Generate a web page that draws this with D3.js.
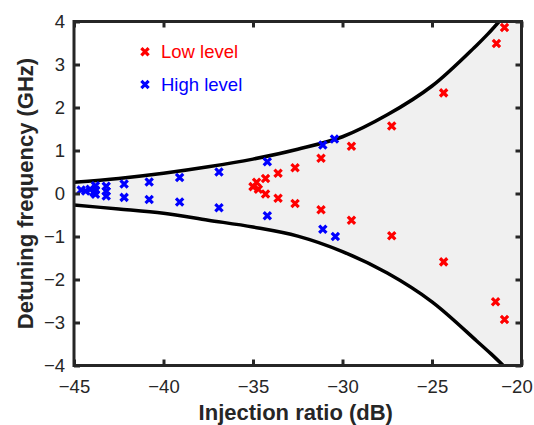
<!DOCTYPE html>
<html>
<head>
<meta charset="utf-8">
<script src="https://cdn.jsdelivr.net/npm/d3@7"></script>
<style>
  body { margin: 0; background: #fff; }
  svg { display: block; font-family: "Liberation Sans", Arial, sans-serif; }
</style>
</head>
<body>
<svg id="chart" width="534" height="425"></svg>
<script>
// locking boundaries
const upperX = [-45, -42.5, -40, -37.5, -35, -32.5, -30, -27.5, -25, -22.5, -21.9, -21.25];
const upperY = [0.26, 0.35, 0.47, 0.62, 0.80, 1.03, 1.32, 1.83, 2.50, 3.45, 3.70, 4.0];
const lowerX = [-45, -42.5, -40, -37.5, -35, -32.5, -30, -27.5, -25, -22.5, -21.7, -20.9];
const lowerY = [-0.27, -0.36, -0.46, -0.62, -0.78, -0.99, -1.35, -1.85, -2.52, -3.43, -3.73, -4.05];

// measured points
const lowX = [-35.0, -34.8, -34.7, -34.3, -34.3, -33.6, -33.6, -32.65, -32.65, -31.2, -31.2,
              -29.5, -29.5, -27.25, -27.25, -24.35, -24.35, -21.4, -21.45, -20.95, -20.95];
const lowY = [0.16, 0.26, 0.10, 0.35, -0.01, 0.47, -0.11, 0.60, -0.23, 0.82, -0.38,
              1.10, -0.62, 1.57, -0.98, 2.34, -1.59, 3.49, -2.52, 3.86, -2.93];
const highX = [-44.6, -44.35, -44.1, -43.9, -43.8, -43.8, -43.8, -43.2, -43.2, -43.2, -42.2, -42.2,
               -40.8, -40.8, -39.1, -39.1, -36.9, -36.9, -34.2, -34.2, -31.1, -30.45, -31.1, -30.4];
const highY = [0.08, 0.06, 0.10, 0.03, 0.18, 0.08, -0.02, 0.17, 0.05, -0.06, 0.22, -0.09,
               0.27, -0.14, 0.37, -0.20, 0.50, -0.33, 0.74, -0.52, 1.13, 1.27, -0.83, -1.00];

const xTicks = [-45, -40, -35, -30, -25, -20];
const yTicks = [-4, -3, -2, -1, 0, 1, 2, 3, 4];
const seriesNames = ["Low level", "High level"];
const seriesColors = ["#ff0000", "#0000ff"];

const svg = d3.select("#chart");
const pLeft = 74, pRight = 521.5, pTop = 21.5, pBottom = 365.5;
const axisColor = "#262626";

const x = d3.scaleLinear().domain([-45, -20]).range([pLeft, pRight]);
const y = d3.scaleLinear().domain([-4, 4]).range([pBottom, pTop]);

svg.append("clipPath").attr("id", "plotclip")
  .append("rect")
  .attr("x", pLeft).attr("y", pTop)
  .attr("width", pRight - pLeft).attr("height", pBottom - pTop);

const upper = upperX.map((d, i) => [d, upperY[i]]);
const lower = lowerX.map((d, i) => [d, lowerY[i]]);

const line = d3.line()
  .x(d => x(d[0]))
  .y(d => y(d[1]))
  .curve(d3.curveCatmullRom);

const plot = svg.append("g").attr("clip-path", "url(#plotclip)");

// shaded locking region: upper curve, the right edge, back along the lower curve
const fillPath = line(upper) +
  "L" + x(-20) + "," + y(4) +
  "L" + x(-20) + "," + y(-4) +
  "L" + line(lower.slice().reverse()).slice(1) + "Z";

plot.append("path")
  .attr("d", fillPath)
  .attr("fill", "#f0f0f0");

[upper, lower].forEach(c => {
  plot.append("path")
    .attr("d", line(c))
    .attr("fill", "none")
    .attr("stroke", "#000")
    .attr("stroke-width", 3.5);
});

const marker = d3.symbol(d3.symbolX, 36);

function drawPoints(xs, ys, color) {
  plot.selectAll(null)
    .data(xs.map((d, i) => [d, ys[i]]))
    .join("path")
    .attr("d", marker)
    .attr("transform", d => "translate(" + x(d[0]) + "," + y(d[1]) + ")")
    .attr("fill", "none")
    .attr("stroke", color)
    .attr("stroke-width", 3.2);
}

drawPoints(highX, highY, seriesColors[1]);
drawPoints(lowX, lowY, seriesColors[0]);

// axes, ticks pointing inward
const fmt = d3.format("");
const xAxis = svg.append("g")
  .attr("transform", "translate(0," + pBottom + ")")
  .call(d3.axisBottom(x).tickValues(xTicks).tickFormat(fmt)
    .tickSizeInner(-6).tickSizeOuter(0).tickPadding(14.5));
const xTop = svg.append("g")
  .attr("transform", "translate(0," + pTop + ")")
  .call(d3.axisTop(x).tickValues(xTicks).tickFormat("")
    .tickSizeInner(-6).tickSizeOuter(0));
const yAxis = svg.append("g")
  .attr("transform", "translate(" + pLeft + ",0)")
  .call(d3.axisLeft(y).tickValues(yTicks).tickFormat(fmt)
    .tickSizeInner(-6).tickSizeOuter(0).tickPadding(9));
const yRight = svg.append("g")
  .attr("transform", "translate(" + pRight + ",0)")
  .call(d3.axisRight(y).tickValues(yTicks).tickFormat("")
    .tickSizeInner(-6).tickSizeOuter(0));

[xAxis, xTop, yAxis, yRight].forEach(g => {
  g.select(".domain").remove();
  g.selectAll(".tick line").attr("stroke", axisColor).attr("stroke-width", 3);
  g.selectAll(".tick text")
    .attr("fill", axisColor)
    .style("font-size", "18.5px")
    .style("font-family", "'Liberation Sans', Arial, sans-serif");
});

// keep the last x label inside the picture
xAxis.selectAll(".tick text").filter(d => d === -20).attr("dx", -5);

svg.append("rect")
  .attr("x", pLeft).attr("y", pTop)
  .attr("width", pRight - pLeft).attr("height", pBottom - pTop)
  .attr("fill", "none")
  .attr("stroke", axisColor)
  .attr("stroke-width", 3);

// axis titles
svg.append("text")
  .text("Injection ratio (dB)")
  .attr("x", (pLeft + pRight) / 2 - 2)
  .attr("y", 420)
  .attr("text-anchor", "middle")
  .style("font-size", "22px")
  .style("font-weight", "bold")
  .attr("fill", axisColor);

svg.append("text")
  .text("Detuning frequency (GHz)")
  .attr("text-anchor", "middle")
  .style("font-size", "22px")
  .style("font-weight", "bold")
  .attr("fill", axisColor)
  .attr("transform", "translate(33," + (pTop + pBottom) / 2 + ") rotate(-90)");

// legend
const legendY = [51.7, 84.5];
seriesNames.forEach((name, i) => {
  svg.append("path")
    .attr("d", marker)
    .attr("transform", "translate(145," + legendY[i] + ")")
    .attr("fill", "none")
    .attr("stroke", seriesColors[i])
    .attr("stroke-width", 3.2);
  svg.append("text")
    .text(name)
    .attr("x", 161)
    .attr("y", legendY[i] + 6.6)
    .style("font-size", "18.5px")
    .attr("fill", seriesColors[i]);
});
</script>
</body>
</html>
